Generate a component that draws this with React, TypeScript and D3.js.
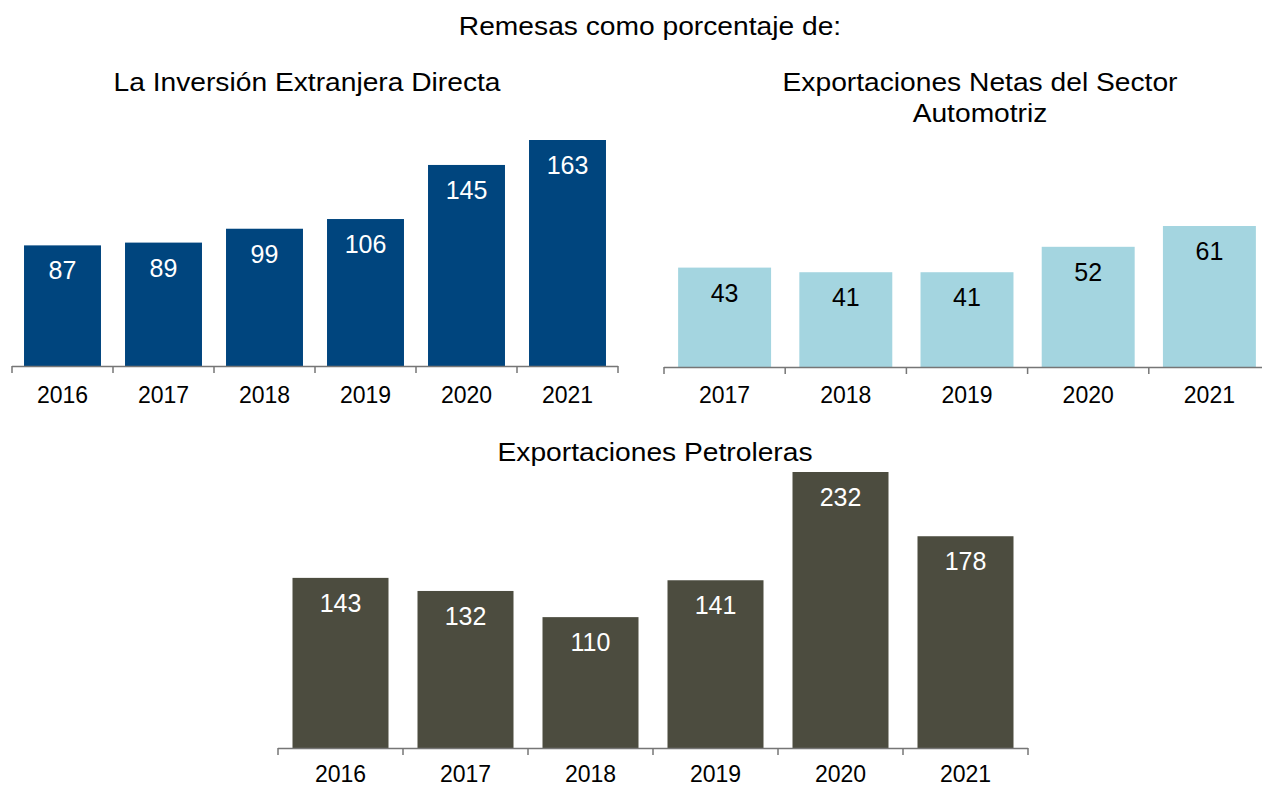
import React from "react";
import * as d3 from "d3";

const iedYears = ["2016", "2017", "2018", "2019", "2020", "2021"];
const iedValues = [87, 89, 99, 106, 145, 163];

const autoYears = ["2017", "2018", "2019", "2020", "2021"];
const autoValues = [43, 41, 41, 52, 61];

const petroYears = ["2016", "2017", "2018", "2019", "2020", "2021"];
const petroValues = [143, 132, 110, 141, 232, 178];

const mainTitle = "Remesas como porcentaje de:";
const iedTitle = ["La Inversión Extranjera Directa"];
const autoTitle = ["Exportaciones Netas del Sector", "Automotriz"];
const petroTitle = ["Exportaciones Petroleras"];

const FONT = "'Liberation Sans', Arial, sans-serif";

function Title({ x, y, text }: { x: number; y: number; text: string }) {
  return (
    <text
      transform={`translate(${x},${y}) scale(1.085,1)`}
      textAnchor="middle"
      fontSize={26}
      fill="#000"
    >
      {text}
    </text>
  );
}

type PanelProps = {
  cats: string[];
  values: number[];
  x0: number;
  x1: number;
  baseline: number;
  topY: number;
  padInner: number;
  color: string;
  labelColor: string;
  title: string[];
  titleX: number;
  titleY: number;
  tickLabelY: number;
};

function Panel(p: PanelProps) {
  const x = d3
    .scaleBand<string>()
    .domain(p.cats)
    .range([p.x0, p.x1])
    .paddingInner(p.padInner)
    .paddingOuter(p.padInner / 2);
  const max = d3.max(p.values) as number;
  const y = d3.scaleLinear().domain([0, max]).range([p.baseline, p.topY]);
  const step = x.step();
  const bounds = p.cats.map((c) => (x(c) as number) - (step * p.padInner) / 2);
  bounds.push(p.x1);
  return (
    <g>
      {p.title.map((t, i) => (
        <Title key={i} x={p.titleX} y={p.titleY + i * 31} text={t} />
      ))}
      {p.cats.map((c, i) => (
        <rect
          key={c}
          x={x(c)}
          y={y(p.values[i])}
          width={x.bandwidth()}
          height={p.baseline - y(p.values[i])}
          fill={p.color}
        />
      ))}
      {p.cats.map((c, i) => (
        <text
          key={"v" + c}
          x={(x(c) as number) + x.bandwidth() / 2}
          y={y(p.values[i]) + 34}
          textAnchor="middle"
          fontSize={25}
          fill={p.labelColor}
        >
          {p.values[i]}
        </text>
      ))}
      <line
        x1={p.x0}
        x2={p.x1}
        y1={p.baseline + 0.5}
        y2={p.baseline + 0.5}
        stroke="#767676"
        strokeWidth={1.5}
      />
      {bounds.map((b, i) => (
        <line
          key={"t" + i}
          x1={b}
          x2={b}
          y1={p.baseline}
          y2={p.baseline + 7}
          stroke="#767676"
          strokeWidth={1.5}
        />
      ))}
      {p.cats.map((c) => (
        <text
          key={"l" + c}
          x={(x(c) as number) + x.bandwidth() / 2}
          y={p.tickLabelY}
          textAnchor="middle"
          fontSize={23}
          fill="#000"
        >
          {c}
        </text>
      ))}
    </g>
  );
}

export default function App() {
  return (
    <svg
      width={1262}
      height={787}
      style={{ position: "absolute", left: 0, top: 0, background: "#fff" }}
      fontFamily={FONT}
    >
      <Title x={650} y={35} text={mainTitle} />
      <Panel
        cats={iedYears}
        values={iedValues}
        x0={12}
        x1={618}
        baseline={366}
        topY={140}
        padInner={0.238}
        color="#00457E"
        labelColor="#fff"
        title={iedTitle}
        titleX={307}
        titleY={91}
        tickLabelY={403}
      />
      <Panel
        cats={autoYears}
        values={autoValues}
        x0={664}
        x1={1270}
        baseline={367}
        topY={226}
        padInner={0.233}
        color="#A4D5E0"
        labelColor="#000"
        title={autoTitle}
        titleX={980}
        titleY={91}
        tickLabelY={403}
      />
      <Panel
        cats={petroYears}
        values={petroValues}
        x0={278}
        x1={1028}
        baseline={748}
        topY={472}
        padInner={0.232}
        color="#4C4C3F"
        labelColor="#fff"
        title={petroTitle}
        titleX={655}
        titleY={461}
        tickLabelY={782}
      />
    </svg>
  );
}
